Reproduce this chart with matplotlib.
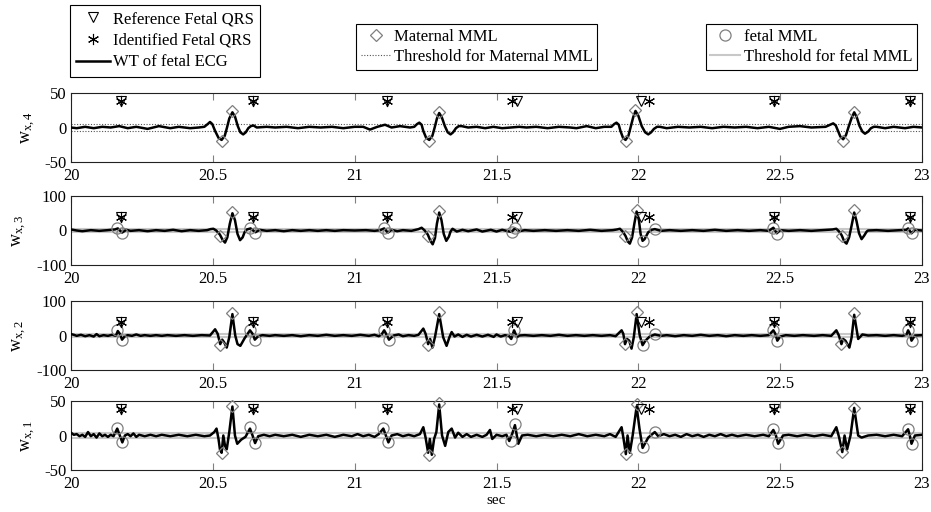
import matplotlib
matplotlib.use("Agg")
import matplotlib.pyplot as plt
from matplotlib.lines import Line2D

plt.rcParams['font.family'] = ['Liberation Serif', 'DejaVu Serif']
plt.rcParams['mathtext.fontset'] = 'custom'
plt.rcParams['mathtext.rm'] = 'Liberation Serif'
plt.rcParams['mathtext.it'] = 'Liberation Serif'

# ---------------- data ----------------
ref_fqrs_t = [20.175, 20.643, 21.113, 21.571, 22.011, 22.479, 22.957]
ident_fqrs_t = [20.175, 20.643, 21.113, 21.553, 22.038, 22.479, 22.957]
qrs_mark_y = 38

# WT of fetal ECG, scale 4
t4 = [20.00, 20.02, 20.05, 20.08, 20.11, 20.14, 20.17, 20.20, 20.23, 20.27, 20.31, 20.35, 20.38, 20.42,
      20.45, 20.47, 20.482, 20.490, 20.498, 20.508, 20.520, 20.531, 20.542, 20.550, 20.558, 20.569, 20.578,
      20.588, 20.597, 20.607, 20.616, 20.625, 20.634, 20.643, 20.655, 20.69,
      20.72, 20.76, 20.80, 20.84, 20.88, 20.92, 20.96, 21.00, 21.03, 21.054, 21.08, 21.107, 21.13, 21.16,
      21.195, 21.21, 21.220, 21.228, 21.236, 21.242, 21.252, 21.263, 21.274, 21.282, 21.290, 21.298, 21.307,
      21.318, 21.328, 21.338, 21.347, 21.357, 21.367, 21.377, 21.40, 21.43, 21.46,
      21.489, 21.52, 21.55, 21.58, 21.606, 21.64, 21.68, 21.72, 21.76, 21.782, 21.818, 21.85, 21.88, 21.905,
      21.915, 21.923, 21.931, 21.937, 21.946, 21.955, 21.965, 21.974, 21.982, 21.990, 22.000, 22.012, 22.024,
      22.035, 22.045, 22.055, 22.066, 22.076, 22.10, 22.14, 22.18, 22.22,
      22.26, 22.30, 22.34, 22.38, 22.42, 22.46, 22.499, 22.53, 22.57, 22.61, 22.66, 22.676, 22.687, 22.696,
      22.703, 22.712, 22.722, 22.732, 22.742, 22.752, 22.761, 22.770, 22.780, 22.790, 22.799, 22.810, 22.820,
      22.830, 22.840, 22.87, 22.90, 22.94, 22.97, 23.00]
w4 = [0, -1, 1, -1, 1, 0, 2, -1, 1, -2, 2, -1, 1, -1,
      0, 1, 5, 8, 5, -5, -15, -18, -12, 0, 13, 22, 16,
      2, -7, -10, -7, -1, 2, 3, 0, 1,
      0, 1, -1, 1, 0, 1, -1, 1, 1, -3, 1, 4, 0, 2,
      0, 1, 5, 7, 4, -5, -15, -18, -12, 0, 13, 21, 15,
      2, -7, -10, -7, -1, 2, 2, 0, 1, -1,
      1, -1, 0, 1, 0, 1, -1, 1, 0, -1, 2, -1, 1, 1,
      5, 7, 4, -5, -15, -18, -12, 2, 15, 24, 17, 2, -7,
      -10, -7, -2, 1, 1, -1, 1, 0, 1,
      -1, 1, 0, 1, -1, 1, -2, 1, 2, 0, 1, 4, 6, 3,
      -4, -13, -17, -11, 2, 14, 22, 15, 2, -6, -9, -6, -1,
      1, 1, -1, 1, -1, 1, 0]

# WT of fetal ECG, scale 3
t3 = [20.00, 20.02, 20.04, 20.07, 20.10, 20.13, 20.155, 20.165, 20.18, 20.195, 20.21, 20.24, 20.27, 20.30,
      20.33, 20.36, 20.39, 20.42, 20.45, 20.48, 20.492, 20.502, 20.512, 20.525, 20.535, 20.543, 20.551,
      20.560, 20.569, 20.578, 20.587, 20.596, 20.605, 20.612, 20.62, 20.633, 20.65,
      20.665, 20.69, 20.72, 20.75, 20.78, 20.81, 20.84, 20.87, 20.90, 20.93, 20.96, 21.00, 21.04, 21.07,
      21.09, 21.104, 21.117, 21.13, 21.15, 21.17, 21.20, 21.225, 21.236, 21.247, 21.258, 21.267, 21.275,
      21.283, 21.290, 21.298, 21.306, 21.314, 21.323, 21.332, 21.338, 21.345,
      21.36, 21.38, 21.40, 21.43, 21.45, 21.48, 21.50, 21.52, 21.54, 21.553, 21.565, 21.58, 21.60, 21.63,
      21.67, 21.71, 21.75, 21.79, 21.83, 21.87, 21.91, 21.925, 21.935, 21.945, 21.955, 21.963, 21.970, 21.978,
      21.986, 21.994, 22.002, 22.008, 22.015, 22.022, 22.035, 22.047,
      22.058, 22.08, 22.11, 22.15, 22.19, 22.23, 22.27, 22.31, 22.35, 22.39, 22.43, 22.46, 22.476, 22.488,
      22.50, 22.53, 22.57, 22.61, 22.65, 22.685, 22.698, 22.708, 22.717, 22.726, 22.734, 22.743, 22.752,
      22.761, 22.769, 22.778, 22.787, 22.796, 22.805, 22.81, 22.84, 22.88, 22.92,
      22.945, 22.951, 22.963, 22.975, 23.00]
w3 = [3, 0, -2, 1, -1, 1, 3, 6, -6, 2, -1, 1, -2, 1,
      -1, 2, -2, 1, -1, 1, 4, 5, 0, -12, -28, -35, -20,
      20, 50, 30, -10, -28, -20, -5, 3, 6, -5,
      2, -1, 1, -2, 1, -1, 1, -1, 1, -1, 1, 0, 1, -1,
      1, 6, -6, 2, -2, 1, -1, 4, 8, 0, -12, -30, -40,
      -22, 20, 52, 30, -10, -30, -18, -3, 5,
      -3, 2, -2, 3, -3, 2, -3, 2, -2, -4, 6, -2, 1, -1,
      1, -1, 1, -1, 2, -1, 1, 3, 5, -3, -16, -32, -38, -20,
      20, 55, 30, -10, -30, -25, -5, 2,
      4, -1, 1, -1, 1, -1, 2, -1, 1, -1, 1, -1, 8, -8,
      1, -1, 1, -1, 1, 3, 5, -3, -14, -32, -38, -20, 15,
      52, 28, -8, -25, -15, -3, 0, 1, -1, 1,
      2, 6, -8, 2, 0]

# WT of fetal ECG, scale 2
t2 = [20.00, 20.01, 20.02, 20.035, 20.05, 20.065, 20.08, 20.09, 20.10, 20.115, 20.13, 20.145, 20.158, 20.165,
      20.172, 20.18, 20.19, 20.20, 20.215, 20.23, 20.245, 20.26, 20.28, 20.30, 20.32, 20.34, 20.37, 20.40,
      20.43, 20.46, 20.49, 20.508, 20.517, 20.526, 20.533, 20.540, 20.549, 20.558, 20.569, 20.579, 20.587,
      20.597, 20.612, 20.631, 20.640, 20.648, 20.66, 20.675, 20.70, 20.72, 20.75, 20.78, 20.81, 20.84, 20.87,
      20.90, 20.93, 20.96, 20.99, 21.02, 21.05, 21.07, 21.085, 21.095, 21.104, 21.112, 21.121, 21.137, 21.155,
      21.17, 21.19, 21.21, 21.225, 21.242, 21.250, 21.259, 21.266, 21.274, 21.283, 21.298, 21.312, 21.324,
      21.334, 21.342, 21.352, 21.365, 21.38, 21.395, 21.41, 21.43, 21.45, 21.47, 21.49, 21.50, 21.515, 21.53,
      21.545, 21.552, 21.562, 21.572, 21.58, 21.60, 21.63, 21.66, 21.69, 21.72, 21.75, 21.78, 21.81, 21.84,
      21.87, 21.90, 21.92, 21.941, 21.947, 21.953, 21.960, 21.968, 21.976, 21.984, 21.994, 22.005, 22.015,
      22.025, 22.040, 22.058, 22.08, 22.10, 22.13, 22.16, 22.19, 22.22, 22.25, 22.28, 22.31, 22.34, 22.37,
      22.40, 22.43, 22.46, 22.476, 22.483, 22.490, 22.50, 22.52, 22.55, 22.58, 22.62, 22.65, 22.68, 22.698,
      22.707, 22.716, 22.722, 22.730, 22.744, 22.752, 22.761, 22.775, 22.79, 22.81, 22.84, 22.87, 22.90,
      22.93, 22.945, 22.951, 22.957, 22.963, 22.975, 23.00]
w2 = [4, 2, -1, 2, -2, 1, -3, 4, -2, 1, -1, 2, -1, 13,
      5, -12, -2, 1, -1, 3, -1, 1, -1, 1, -1, 1, -1, 1,
      -1, 1, 0, 18, 5, -25, -12, -20, -35, -5, 62, 0, -25,
      -30, -8, 15, 5, -12, -2, 1, -1, 1, -1, 1, -2, 1, -1,
      2, -1, 1, -1, 2, -1, 2, -2, 3, 15, 3, -12, 0, 3,
      -2, 1, -1, 2, 20, 5, -25, -10, -35, -5, 62, -5, -30,
      -5, 10, -3, 3, -4, 2, -3, 2, -3, 2, -4, 3, -3, 1,
      -2, -10, 15, -5, 0, 1, -1, 1, -1, 2, -1, 1, -1, 1,
      -1, 1, -2, 15, 5, -25, -10, -15, -38, -5, 62, 0, -28,
      -15, -3, 3, -1, 1, -2, 1, -1, 2, -1, 1, -2, 1, -1,
      1, -1, 1, 15, 5, -15, -3, 1, -1, 1, -1, 1, -1, 15,
      0, -25, -10, -15, -35, -5, 60, -10, 3, 0, 1, -1, 1,
      -1, 2, 15, 5, -15, 0, 1]

# WT of fetal ECG, scale 1
t1 = [20.00, 20.01, 20.02, 20.03, 20.04, 20.05, 20.06, 20.07, 20.08, 20.09, 20.10, 20.11, 20.12, 20.13,
      20.14, 20.15, 20.163, 20.172, 20.181, 20.19, 20.20, 20.21, 20.22, 20.23, 20.24, 20.26, 20.28, 20.30,
      20.32, 20.35, 20.38, 20.41, 20.44, 20.47, 20.49, 20.505, 20.513, 20.520, 20.525, 20.531, 20.537, 20.543,
      20.549, 20.558, 20.569, 20.578, 20.586, 20.60, 20.615, 20.631, 20.640, 20.649, 20.66, 20.68, 20.70,
      20.72, 20.75, 20.78, 20.81, 20.84, 20.87, 20.90, 20.93, 20.96, 20.99, 21.01, 21.03, 21.05, 21.07,
      21.085, 21.101, 21.110, 21.119, 21.13, 21.15, 21.17, 21.19, 21.21, 21.23, 21.242, 21.250, 21.259,
      21.265, 21.272, 21.280, 21.288, 21.298, 21.308, 21.319, 21.330, 21.342, 21.354, 21.365, 21.38, 21.395,
      21.41, 21.43, 21.45, 21.465, 21.477, 21.485, 21.50, 21.52, 21.535, 21.545, 21.555, 21.565, 21.577,
      21.59, 21.61, 21.64, 21.67, 21.70, 21.73, 21.76, 21.79, 21.82, 21.85, 21.88, 21.90, 21.92, 21.941,
      21.948, 21.956, 21.962, 21.970, 21.980, 21.994, 22.004, 22.015, 22.035, 22.058, 22.07, 22.09, 22.11,
      22.13, 22.15, 22.17, 22.19, 22.21, 22.23, 22.25, 22.27, 22.29, 22.31, 22.33, 22.35, 22.38, 22.41,
      22.44, 22.46, 22.476, 22.485, 22.493, 22.51, 22.53, 22.56, 22.59, 22.62, 22.65, 22.68, 22.698, 22.708,
      22.719, 22.727, 22.736, 22.748, 22.761, 22.775, 22.787, 22.81, 22.84, 22.87, 22.90, 22.93, 22.951,
      22.957, 22.963, 22.975, 23.00]
w1 = [4, 1, 2, -1, 1, -2, 5, -1, 2, -3, 3, -1, 1, -2,
      1, -1, 10, 0, -10, 0, 2, -1, 3, -2, 1, -1, 1, -1,
      1, -1, 1, -1, 1, -1, 0, 5, 10, -5, -20, -25, 0, -15,
      -20, 5, 42, 0, -12, -6, -2, 10, 0, -11, -1, 1, -1,
      1, -1, 1, -2, 1, -1, 1, -2, 1, -1, 2, -1, 1, -2,
      2, 10, 0, -10, 0, 2, -1, 1, -1, 2, 12, -3, -25,
      -5, -28, -5, 5, 45, 0, -15, 5, 10, -3, 4, -2, 2,
      -2, 1, -2, 1, 8, -5, 1, -1, 1, -8, 2, 15, -12,
      0, 1, -1, 1, -1, 1, -1, 2, -1, 1, -1, 2, -2, 12,
      -5, -27, 0, -25, 0, 42, 10, -18, -3, 5, -1, 2, -1,
      1, -2, 2, -1, 1, -2, 1, -1, 2, -1, 1, -1, 1, -1,
      1, -1, 8, 0, -12, 0, 1, -1, 1, -1, 1, -1, 12, -3,
      -24, 0, -20, 0, 40, 0, -3, 0, 1, -1, 1, -1, 9,
      0, -12, 0, 1]

# maternal MML (diamonds)
mat_t4 = [20.531, 20.569, 21.263, 21.298, 21.955, 21.990, 22.722, 22.761]
mat_v4 = [-20, 24, -20, 23, -20, 25, -19, 23]
mat_t3 = [20.525, 20.569, 21.258, 21.298, 21.952, 21.994, 22.717, 22.761]
mat_v3 = [-15, 55, -17, 57, -15, 58, -16, 58]
mat_t2 = [20.526, 20.569, 21.259, 21.298, 21.953, 21.994, 22.716, 22.761]
mat_v2 = [-27, 65, -27, 67, -25, 68, -25, 64]
mat_t1 = [20.531, 20.569, 21.263, 21.298, 21.956, 21.994, 22.719, 22.761]
mat_v1 = [-26, 43, -28, 47, -27, 46, -24, 40]

# fetal MML (circles)
fet_t3 = [20.163, 20.179, 20.631, 20.650, 21.104, 21.117, 21.553, 21.565, 22.015, 22.058, 22.476, 22.488, 22.951, 22.963]
fet_v3 = [6, -6, 6, -6, 6, -7, -4, 6, -30, 4, 8, -9, 6, -8]
fet_t2 = [20.163, 20.181, 20.631, 20.648, 21.104, 21.121, 21.552, 21.562, 22.015, 22.058, 22.476, 22.490, 22.951, 22.963]
fet_v2 = [15, -14, 16, -14, 15, -14, -10, 16, -27, 4, 15, -15, 15, -15]
fet_t1 = [20.163, 20.181, 20.631, 20.649, 21.101, 21.119, 21.550, 21.565, 22.015, 22.058, 22.476, 22.491, 22.951, 22.963]
fet_v1 = [11, -10, 13, -11, 11, -10, -8, 16, -16, 5, 9, -11, 10, -13]

mat_thr4 = 5
fet_thr = 3

ylabels = ['w$_{\\mathrm{x,4}}$', 'w$_{\\mathrm{x,3}}$', 'w$_{\\mathrm{x,2}}$', 'w$_{\\mathrm{x,1}}$']
ylims = [50, 100, 100, 50]
xticks = [20, 20.5, 21, 21.5, 22, 22.5, 23]
xticklabels = ['20', '20.5', '21', '21.5', '22', '22.5', '23']

# ---------------- plot ----------------
W, H = 931, 512
fig = plt.figure(figsize=(W / 100, H / 100), dpi=100)

tops = [93, 196, 301, 401]
ah = 69
axes = []
for top in tops:
    ax = fig.add_axes([71 / W, 1 - (top + ah) / H, 851 / W, ah / H])
    axes.append(ax)

signals = [(t4, w4), (t3, w3), (t2, w2), (t1, w1)]
mats = [(mat_t4, mat_v4), (mat_t3, mat_v3), (mat_t2, mat_v2), (mat_t1, mat_v1)]
fets = [None, (fet_t3, fet_v3), (fet_t2, fet_v2), (fet_t1, fet_v1)]

grey_mk = '#7f7f7f'
dot_col = '#555555'
thr_col = '#c8c8c8'
for i, ax in enumerate(axes):
    lim = ylims[i]
    if i == 0:
        ax.axhline(mat_thr4, color=dot_col, ls=(0, (1, 1.5)), lw=0.8, zorder=1)
        ax.axhline(-mat_thr4, color=dot_col, ls=(0, (1, 1.5)), lw=0.8, zorder=1)
    else:
        ax.axhline(fet_thr, color=thr_col, lw=1.5, zorder=1)
        ax.axhline(-fet_thr, color=thr_col, lw=1.5, zorder=1)
    t, w = signals[i]
    ax.plot(t, w, color='black', lw=1.8, zorder=3, solid_joinstyle='round')
    mt, mv = mats[i]
    ax.plot(mt, mv, ls='none', marker='D', ms=6.5, mfc='none', mec=grey_mk, mew=0.9, zorder=4,
            clip_on=False)
    if fets[i] is not None:
        ft, fv = fets[i]
        ax.plot(ft, fv, ls='none', marker='o', ms=8, mfc='none', mec=grey_mk, mew=0.9, zorder=4,
                clip_on=False)
    ax.plot(ref_fqrs_t, [qrs_mark_y] * len(ref_fqrs_t), ls='none', marker='v', ms=7,
            mfc='none', mec='black', mew=0.8, zorder=5, clip_on=False)
    ax.plot(ident_fqrs_t, [qrs_mark_y] * len(ident_fqrs_t), ls='none', marker=(6, 2, 0), ms=8,
            mec='black', mew=0.8, zorder=5, clip_on=False)
    ax.set_xlim(20, 23)
    ax.set_ylim(-lim, lim)
    ax.set_yticks([-lim, 0, lim])
    ax.set_yticklabels([str(-lim), '0', str(lim)])
    ax.set_xticks(xticks)
    ax.set_xticklabels(xticklabels)
    ax.tick_params(axis='x', direction='in', length=5, width=0.8, color='#808080',
                   top=True, labelsize=12, pad=4)
    ax.tick_params(axis='y', length=0, labelsize=12, pad=3)
    for sp in ax.spines.values():
        sp.set_linewidth(0.8)
        sp.set_color('#222222')
    ax.set_ylabel(ylabels[i], fontsize=13, labelpad=5)

axes[-1].set_xlabel('sec', fontsize=11, labelpad=2)

# legends
h_ref = Line2D([], [], ls='none', marker='v', ms=7, mfc='none', mec='black', mew=0.8)
h_id = Line2D([], [], ls='none', marker=(6, 2, 0), ms=8, mec='black', mew=0.8)
h_wt = Line2D([], [], color='black', lw=1.8)
h_mat = Line2D([], [], ls='none', marker='D', ms=6.5, mfc='none', mec=grey_mk, mew=0.9)
h_mthr = Line2D([], [], color=dot_col, ls=(0, (1, 1.5)), lw=0.8)
h_fet = Line2D([], [], ls='none', marker='o', ms=8, mfc='none', mec=grey_mk, mew=0.9)
h_fthr = Line2D([], [], color=thr_col, lw=1.5)

common = dict(fontsize=12, frameon=True, fancybox=False, framealpha=1, edgecolor='black',
              handletextpad=0.2, borderaxespad=0)

leg1 = fig.legend([h_ref, h_id, h_wt], ['Reference Fetal QRS', 'Identified Fetal QRS', 'WT of fetal ECG'],
                  loc='upper left', bbox_to_anchor=(70 / W, 1 - 5 / H), handlelength=2.0,
                  borderpad=0.37, labelspacing=0.34, **common)
leg2 = fig.legend([h_mat, h_mthr], ['Maternal MML', 'Threshold for Maternal MML'],
                  loc='upper left', bbox_to_anchor=(356 / W, 1 - 24 / H), handlelength=1.8,
                  borderpad=0.28, labelspacing=0.25, **common)
leg3 = fig.legend([h_fet, h_fthr], ['fetal MML', 'Threshold for fetal MML'],
                  loc='upper right', bbox_to_anchor=(917 / W, 1 - 24 / H), handlelength=1.8,
                  borderpad=0.28, labelspacing=0.25, **common)
for lg in (leg1, leg2, leg3):
    lg.get_frame().set_linewidth(0.8)

fig.savefig('out.png', dpi=100)
